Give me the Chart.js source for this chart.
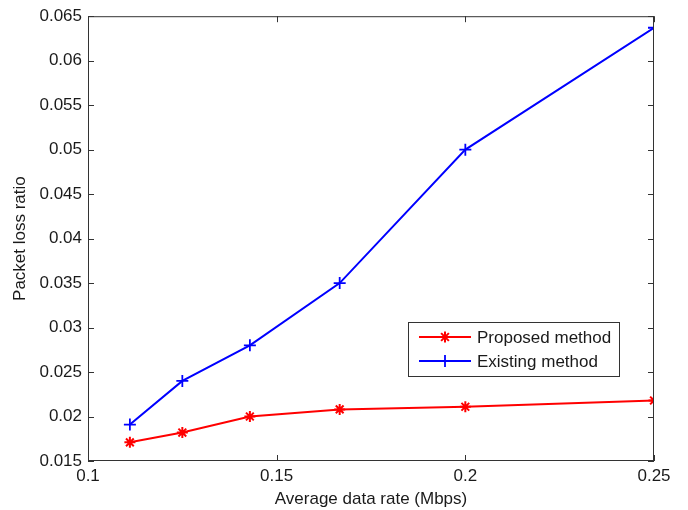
<!DOCTYPE html>
<html>
<head>
<meta charset="utf-8">
<script src="https://cdn.jsdelivr.net/npm/chart.js@4.4.0/dist/chart.umd.min.js"></script>
<style>
  html, body { margin: 0; padding: 0; background: #fff; }
</style>
</head>
<body>
<canvas id="bieudo" width="688" height="510"></canvas>
<script>
// du lieu doc tu hinh
const tocDo = [0.1111, 0.125, 0.1429, 0.1667, 0.2, 0.25];
const deXuat = [0.0171, 0.0182, 0.0200, 0.0208, 0.0211, 0.0218];
const hienCo = [0.0191, 0.0240, 0.0280, 0.0350, 0.0500, 0.0637];
const xTicks = [0.1, 0.15, 0.2, 0.25];
const yTicks = [0.015, 0.02, 0.025, 0.03, 0.035, 0.04, 0.045, 0.05, 0.055, 0.06, 0.065];
const tenSeries = ["Proposed method", "Existing method"];

const FONT = "'Liberation Sans', Arial, sans-serif";
const TEXT = "#1a1a1a";
const AXIS = "#333333";

function diem(xs, ys) {
  return xs.map((x, i) => ({ x: x, y: ys[i] }));
}

// ve marker kieu matlab cho legend
function veMarker(ctx, kieu, x, y, r) {
  ctx.beginPath();
  ctx.moveTo(x - r, y); ctx.lineTo(x + r, y);
  ctx.moveTo(x, y - r); ctx.lineTo(x, y + r);
  if (kieu === "star") {
    const d = r * Math.SQRT1_2;
    ctx.moveTo(x - d, y - d); ctx.lineTo(x + d, y + d);
    ctx.moveTo(x - d, y + d); ctx.lineTo(x + d, y - d);
  }
  ctx.stroke();
}

const khungPlugin = {
  id: "khung",
  afterDatasetsDraw(chart) {
    const ctx = chart.ctx;
    const a = chart.chartArea;
    const sx = chart.scales.x, sy = chart.scales.y;
    ctx.save();
    ctx.strokeStyle = AXIS;
    ctx.lineWidth = 1;
    ctx.strokeRect(a.left + 0.5, a.top + 0.5, a.right - a.left - 1, a.bottom - a.top - 1);
    ctx.beginPath();
    xTicks.forEach(v => {
      const px = Math.round(sx.getPixelForValue(v)) + 0.5;
      ctx.moveTo(px, a.bottom); ctx.lineTo(px, a.bottom - 6);
      ctx.moveTo(px, a.top); ctx.lineTo(px, a.top + 6);
    });
    yTicks.forEach(v => {
      const py = Math.round(sy.getPixelForValue(v)) + 0.5;
      ctx.moveTo(a.left, py); ctx.lineTo(a.left + 6, py);
      ctx.moveTo(a.right, py); ctx.lineTo(a.right - 6, py);
    });
    ctx.stroke();
    ctx.restore();
  },
  afterDraw(chart) {
    // legend o goc duoi phai
    const ctx = chart.ctx;
    const bx = 408.5, by = 322.5, bw = 211, bh = 54;
    ctx.save();
    ctx.fillStyle = "#fff";
    ctx.fillRect(bx, by, bw, bh);
    ctx.strokeStyle = AXIS;
    ctx.lineWidth = 1;
    ctx.strokeRect(bx, by, bw, bh);
    ctx.font = "17px " + FONT;
    ctx.textBaseline = "middle";
    chart.data.datasets.forEach((ds, i) => {
      const y = 337 + i * 24;
      ctx.strokeStyle = ds.borderColor;
      ctx.lineWidth = ds.borderWidth;
      ctx.beginPath();
      ctx.moveTo(419, y); ctx.lineTo(471, y);
      ctx.stroke();
      ctx.lineWidth = ds.pointBorderWidth;
      veMarker(ctx, ds.pointStyle, 445, y, ds.pointRadius);
      ctx.fillStyle = TEXT;
      ctx.fillText(ds.label, 477, y + 1);
    });
    ctx.restore();
  }
};

const ctx = document.getElementById("bieudo").getContext("2d");
new Chart(ctx, {
  type: "line",
  data: {
    datasets: [{
      label: tenSeries[0],
      data: diem(tocDo, deXuat),
      borderColor: "#ff0000",
      backgroundColor: "#ff0000",
      borderWidth: 2,
      pointStyle: "star",
      pointRadius: 5.5,
      pointBorderWidth: 2,
      pointBorderColor: "#ff0000",
      fill: false,
      tension: 0
    }, {
      label: tenSeries[1],
      data: diem(tocDo, hienCo),
      borderColor: "#0000ff",
      backgroundColor: "#0000ff",
      borderWidth: 2,
      pointStyle: "cross",
      pointRadius: 6,
      pointBorderWidth: 1.8,
      pointBorderColor: "#0000ff",
      fill: false,
      tension: 0
    }]
  },
  options: {
    responsive: false,
    animation: false,
    devicePixelRatio: 1,
    layout: { padding: { left: 0, top: 13, right: 34, bottom: 0 } },
    plugins: {
      legend: { display: false },
      tooltip: { enabled: false }
    },
    scales: {
      x: {
        type: "linear",
        min: 0.1,
        max: 0.25,
        afterFit(s) { s.height = 49; },
        afterBuildTicks(s) { s.ticks = xTicks.map(v => ({ value: v })); },
        grid: { display: false, drawTicks: false },
        border: { display: false },
        ticks: {
          padding: 5,
          maxRotation: 0,
          color: TEXT,
          font: { family: FONT, size: 17 },
          callback: v => String(+v.toFixed(3))
        },
        title: {
          display: true,
          text: "Average data rate (Mbps)",
          color: TEXT,
          font: { family: FONT, size: 17 },
          padding: { top: 6, bottom: 0 }
        }
      },
      y: {
        type: "linear",
        min: 0.015,
        max: 0.065,
        afterFit(s) { s.width = 88; },
        afterBuildTicks(s) { s.ticks = yTicks.map(v => ({ value: v })); },
        grid: { display: false, drawTicks: false },
        border: { display: false },
        ticks: {
          padding: 6,
          color: TEXT,
          font: { family: FONT, size: 17 },
          callback: v => String(+v.toFixed(3))
        },
        title: {
          display: true,
          text: "Packet loss ratio",
          color: TEXT,
          font: { family: FONT, size: 17 },
          padding: { top: 10, bottom: 0 }
        }
      }
    }
  },
  plugins: [khungPlugin]
});
</script>
</body>
</html>
